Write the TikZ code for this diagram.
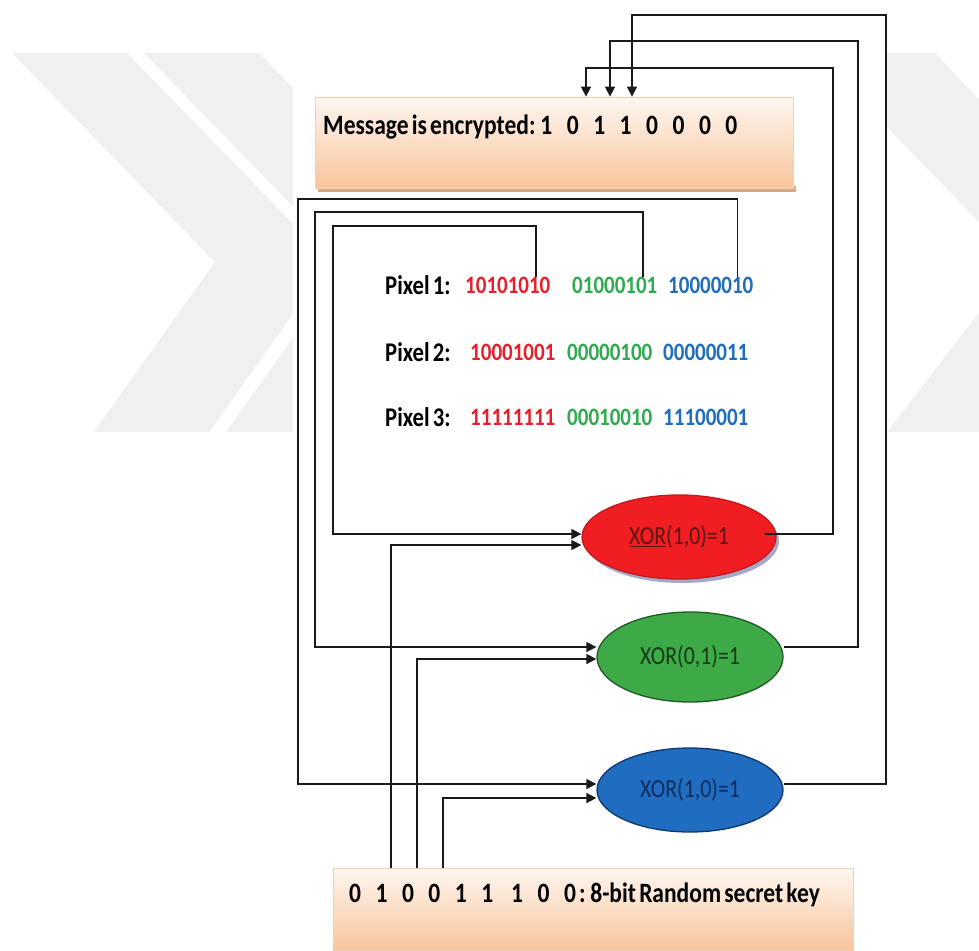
\documentclass[tikz,border=0pt]{standalone}
\usepackage{fontspec}
\setmainfont{Carlito}
\newfontfamily\cf[FakeStretch=0.84,WordSpace=0.6]{Carlito}
\usetikzlibrary{arrows.meta,calc,shapes.geometric}
\definecolor{wm}{HTML}{F0F0F0}
\definecolor{boxtop}{HTML}{FEF6F0}
\definecolor{boxbot}{HTML}{F8C59C}
\definecolor{boxedge}{HTML}{F0CFB2}
\definecolor{boxshade}{HTML}{D8A886}
\definecolor{redfill}{HTML}{F01E22}
\definecolor{redline}{HTML}{C41A1E}
\definecolor{redtext}{HTML}{5C1414}
\definecolor{redshade}{HTML}{A3A9C6}
\definecolor{grnfill}{HTML}{3DAA47}
\definecolor{grnline}{HTML}{1D5A24}
\definecolor{grntext}{HTML}{123A17}
\definecolor{blufill}{HTML}{1F6CC1}
\definecolor{bluline}{HTML}{0E386F}
\definecolor{blutext}{HTML}{0F2C59}
\definecolor{bitred}{HTML}{E5202B}
\definecolor{bitgrn}{HTML}{2EAA4F}
\definecolor{bitblu}{HTML}{1E6DBE}
\definecolor{ink}{HTML}{1A1A1A}
\newcommand\bitgap{\hspace{14.5pt}}

\begin{document}
\begin{tikzpicture}[x=1pt,y=-1pt,
  wire/.style={draw=ink,line width=1.6pt},
  arr/.style={wire,-{Triangle[length=10pt,width=10pt]}},
  panel/.style={rectangle,draw=boxedge,line width=0.8pt,top color=boxtop,bottom color=boxbot,inner sep=0pt},
  gate/.style={ellipse,inner sep=0pt,line width=1.3pt,font=\cf\fontsize{26}{28}\selectfont},
  lbl/.style={anchor=west,inner sep=0pt,font=\cf\bfseries\fontsize{27}{29}\selectfont},
  bits/.style={anchor=west,inner sep=0pt,font=\cf\bfseries\fontsize{25}{27}\selectfont},
]
\useasboundingbox (0,0) rectangle (979,950);
\fill[white] (0,0) rectangle (979,950);

% faint chevron watermark behind the figure
\begin{scope}
  \clip (0,0) rectangle (293,950);
  \fill[wm] (12,53) -- (127,53) -- (330,262) -- (209,432) -- (94,432) -- (215,262) -- cycle;
  \fill[wm] (144,53) -- (259,53) -- (462,262) -- (341,432) -- (226,432) -- (347,262) -- cycle;
\end{scope}
\begin{scope}
  \clip (887,0) rectangle (979,950);
  \fill[wm] (815,53) -- (935,53) -- (1133,262) -- (1002,432) -- (887,432) -- (1018,262) -- cycle;
\end{scope}

% message and key panels
\fill[boxshade] (318,186) rectangle (796,192);
\node[panel,minimum width=478pt,minimum height=91pt] (msg) at (554,142.5) {};
\node[panel,minimum width=520pt,minimum height=82pt] (key) at (593,909) {};

\node[lbl,font=\cf\bfseries\fontsize{28}{30}\selectfont] (msgtxt) at (323,127)
  {Message is encrypted: 1\bitgap0\bitgap1\bitgap1\bitgap0\bitgap0\bitgap0\bitgap0};
\node[lbl,font=\cf\bfseries\fontsize{28}{30}\selectfont] (keytxt) at (349,895)
  {0\bitgap1\bitgap0\bitgap0\bitgap1\bitgap1\hspace{18pt}1\bitgap0\bitgap0 :\,8-bit Random secret key};

% pixel values
\node[lbl] (px1) at (385,285) {Pixel 1:};
\node[bits,text=bitred] (p1r) at (465,285) {10101010};
\node[bits,text=bitgrn] (p1g) at (572,285) {01000101};
\node[bits,text=bitblu] (p1b) at (668,285) {10000010};
\node[lbl] (px2) at (385,352) {Pixel 2:};
\node[bits,text=bitred] (p2r) at (470,352) {10001001};
\node[bits,text=bitgrn] (p2g) at (567,352) {00000100};
\node[bits,text=bitblu] (p2b) at (663,352) {00000011};
\node[lbl] (px3) at (385,417) {Pixel 3:};
\node[bits,text=bitred] (p3r) at (470,417) {11111111};
\node[bits,text=bitgrn] (p3g) at (567,417) {00010010};
\node[bits,text=bitblu] (p3b) at (663,417) {11100001};

% XOR gates
\fill[redshade] (682,541) ellipse [x radius=97, y radius=42];
\node[gate,fill=redfill,draw=redline,text=redtext,minimum width=194pt,minimum height=84pt] (red) at (679,537) {\underline{XOR}(1,0)=1};
\node[gate,fill=grnfill,draw=grnline,text=grntext,minimum width=186pt,minimum height=90pt] (green) at (690,657) {XOR(0,1)=1};
\node[gate,fill=blufill,draw=bluline,text=blutext,minimum width=186pt,minimum height=84pt] (blue) at (690,790) {XOR(1,0)=1};

% routing corners
\coordinate (rbus) at (333,226);
\coordinate (gbus) at (315,212);
\coordinate (bbus) at (298,199);
\coordinate (rret) at (833,68);
\coordinate (gret) at (858,41);
\coordinate (bret) at (886,15);
\coordinate (p1rtap) at ($(p1r.north west)!0.83!(p1r.north east)$);
\coordinate (p1gtap) at ($(p1g.north west)!0.83!(p1g.north east)$);
\coordinate (p1btap) at ($(p1b.north west)!0.81!(p1b.north east)$);

% pixel bits into the gates
\draw[arr] (p1rtap) |- (rbus) |- ([yshift=3pt]red.west);
\draw[arr] (p1gtap) |- (gbus) |- ([yshift=10pt]green.west);
\draw[arr] (p1btap) |- (bbus) |- ([yshift=6pt]blue.west);
% key bits into the gates
\draw[arr] ([xshift=-202pt]key.north) |- ([yshift=-8pt]red.west);
\draw[arr] ([xshift=-176pt]key.north) |- ([yshift=-2pt]green.west);
\draw[arr] ([xshift=-150pt]key.north) |- ([yshift=-8pt]blue.west);
% gate results into the message
\draw[arr] ([xshift=-12pt,yshift=3pt]red.east) -| (rret) -| ([xshift=32pt]msg.north);
\draw[arr] ([yshift=10pt]green.east) -| (gret) -| ([xshift=56pt]msg.north);
\draw[arr] ([yshift=6pt]blue.east) -| (bret) -| ([xshift=78pt]msg.north);
\end{tikzpicture}
\end{document}
